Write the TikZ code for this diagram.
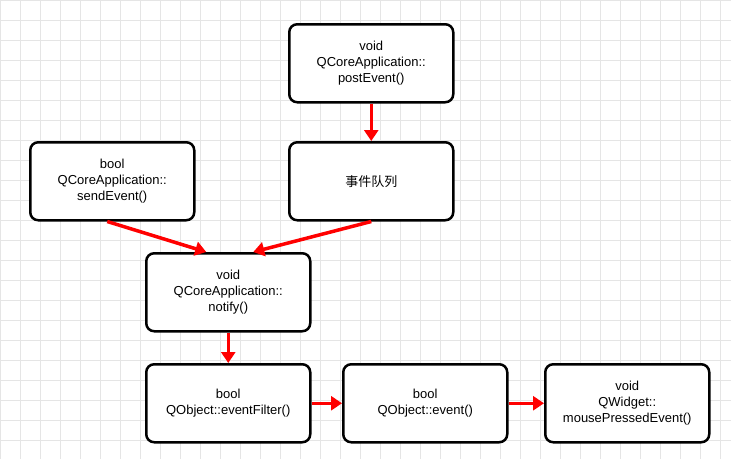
\documentclass[tikz,border=0pt]{standalone}
\usepackage{fontspec}
\setmainfont{Liberation Sans}
\newfontfamily\cjk{Noto Sans CJK SC}
\usetikzlibrary{arrows.meta}
\begin{document}
\begin{tikzpicture}[x=1pt,y=-1pt,
  box/.style={draw=black,line width=2.5pt,rounded corners=8pt,fill=white,minimum width=164pt,minimum height=78pt,align=center,font=\fontsize{13}{16}\selectfont,anchor=north west},
  arr/.style={draw=red,line width=3.5pt,-{Triangle[length=11pt,width=14pt]}}]
\useasboundingbox (0,0) rectangle (731,459);
\fill[white] (0,0) rectangle (731,459);
\foreach \i in {0,20,...,720} \draw[black!10,line width=0.5pt] (\i,0) -- (\i,459);
\foreach \j in {0,20,...,450} \draw[black!10,line width=0.5pt] (0,\j) -- (731,\j);
\node[box] (post) at (288,23) {void\\QCoreApplication::\\postEvent()};
\node[box] (queue) at (288,141) {{\cjk 事件队列}};
\node[box] (send) at (29,141) {bool\\QCoreApplication::\\sendEvent()};
\node[box] (notify) at (145,252) {void\\QCoreApplication::\\notify()};
\node[box] (filter) at (145,363) {bool\\QObject::eventFilter()};
\node[box] (event) at (342,363) {bool\\QObject::event()};
\node[box] (mouse) at (544,363) {void\\QWidget::\\mousePressedEvent()};
\draw[arr] (post.south) -- (queue.north);
\draw[arr] ([xshift=-5pt]send.south) -- ([xshift=-22pt]notify.north);
\draw[arr] (queue.south) -- ([xshift=25pt]notify.north);
\draw[arr] (notify.south) -- (filter.north);
\draw[arr] (filter.east) -- (event.west);
\draw[arr] (event.east) -- (mouse.west);
\end{tikzpicture}
\end{document}
